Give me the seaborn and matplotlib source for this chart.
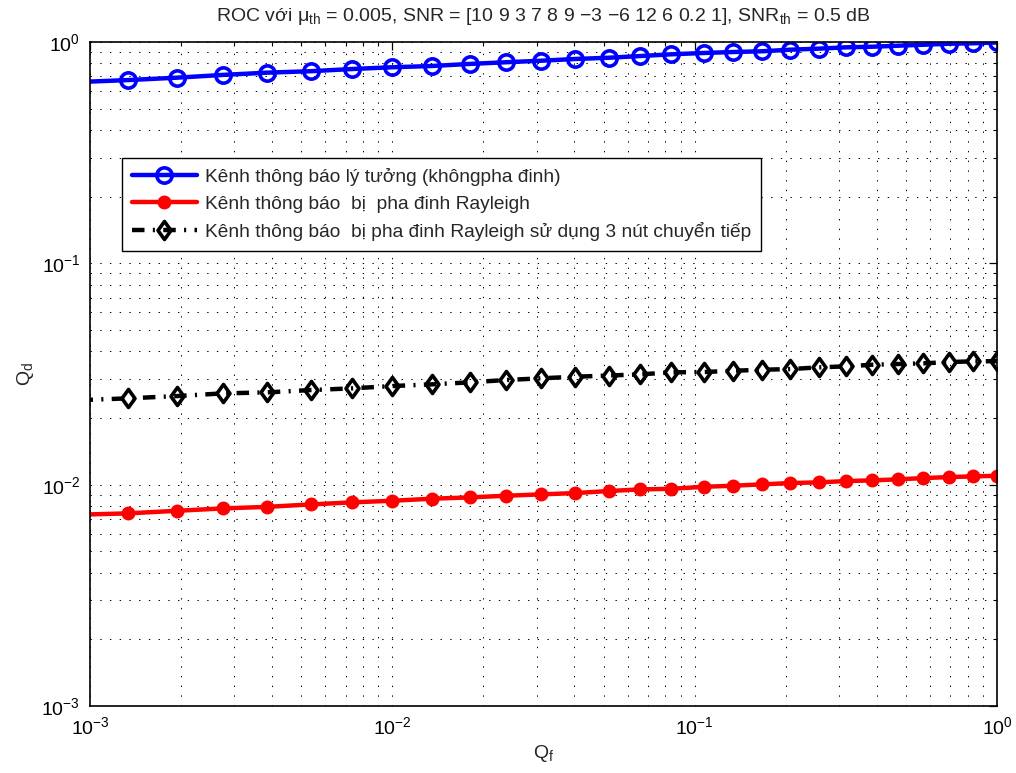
import numpy as np
import pandas as pd
import matplotlib
matplotlib.use("Agg")
import matplotlib.pyplot as plt
import seaborn as sns
from matplotlib.ticker import LogLocator, NullFormatter, LogFormatterMathtext
from matplotlib.path import Path

# ---- data ----
qf = [9.3e-4, 1.34e-3, 1.94e-3, 2.75e-3, 3.86e-3, 5.37e-3, 7.37e-3, 0.0100, 0.0135,
      0.0180, 0.0237, 0.0310, 0.0402, 0.0520, 0.0661, 0.0838, 0.107, 0.134, 0.167,
      0.207, 0.257, 0.316, 0.387, 0.470, 0.571, 0.693, 0.836, 1.0]

qd_ideal = [0.660, 0.673, 0.690, 0.710, 0.727, 0.738, 0.755, 0.769, 0.779, 0.796,
            0.810, 0.823, 0.838, 0.849, 0.864, 0.880, 0.892, 0.901, 0.908, 0.923,
            0.933, 0.946, 0.952, 0.962, 0.972, 0.982, 0.987, 0.995]

qd_rayleigh = [0.00732, 0.00742, 0.00762, 0.00781, 0.00794, 0.00814, 0.00832, 0.00846,
               0.00864, 0.00876, 0.00891, 0.00904, 0.00916, 0.00936, 0.00952, 0.00958,
               0.00978, 0.00989, 0.01003, 0.01017, 0.01024, 0.01038, 0.01046, 0.01057,
               0.01071, 0.01082, 0.01090, 0.01097]

qd_relay = [0.0241, 0.02455, 0.02514, 0.02585, 0.02612, 0.02676, 0.02724, 0.02790,
            0.02839, 0.02899, 0.02970, 0.03023, 0.03074, 0.03112, 0.03151, 0.03217,
            0.03227, 0.03271, 0.03305, 0.03329, 0.03388, 0.03424, 0.03482, 0.03508,
            0.03533, 0.03581, 0.03608, 0.03615]

labels = ["Kênh thông báo lý tưởng (khôngpha đinh)",
          "Kênh thông báo  bị  pha đinh Rayleigh",
          "Kênh thông báo  bị pha đinh Rayleigh sử dụng 3 nút chuyển tiếp"]

title = ("ROC với $\\mu_{th}$ = 0.005, SNR = [10 9 3 7 8 9 \u22123 \u22126 12 6 0.2 1], "
         "SNR$_{th}$ = 0.5 dB")

# ---- style ----
sns.set_style("white")
plt.rcParams["font.family"] = ["Liberation Sans", "DejaVu Sans"]
plt.rcParams["mathtext.fontset"] = "custom"
plt.rcParams["mathtext.rm"] = "Liberation Sans"
plt.rcParams["mathtext.it"] = "Liberation Sans:italic"
plt.rcParams["mathtext.default"] = "regular"
plt.rcParams["lines.scale_dashes"] = False

diamond = Path([(0, 1), (0.72, 0), (0, -1), (-0.72, 0), (0, 1)],
               [Path.MOVETO, Path.LINETO, Path.LINETO, Path.LINETO, Path.CLOSEPOLY])

fig = plt.figure(figsize=(10.16, 7.73), dpi=100)
ax = fig.add_axes([90 / 1016, 1 - 706 / 773, 907 / 1016, 664 / 773])

df = pd.DataFrame({"qf": qf, "ideal": qd_ideal, "rayleigh": qd_rayleigh, "relay": qd_relay})

sns.lineplot(data=df, x="qf", y="ideal", ax=ax, color="#0000ff", linewidth=3.2,
             marker="o", markersize=11, markerfacecolor="none", markeredgecolor="#0000ff",
             markeredgewidth=2.6, label=labels[0], clip_on=True)
sns.lineplot(data=df, x="qf", y="rayleigh", ax=ax, color="#ff0000", linewidth=3.2,
             marker="o", markersize=9, markerfacecolor="#ff0000", markeredgecolor="#ff0000",
             markeredgewidth=1, label=labels[1], clip_on=True)
sns.lineplot(data=df, x="qf", y="relay", ax=ax, color="black", linewidth=3.2,
             linestyle=(0, (9, 6, 1.5, 6)),
             marker=diamond, markersize=13, markerfacecolor="none", markeredgecolor="black",
             markeredgewidth=2.6, label=labels[2], clip_on=True)

ax.set_xscale("log")
ax.set_yscale("log")
ax.set_xlim(1e-3, 1)
ax.set_ylim(1e-3, 1)

ax.xaxis.set_major_locator(LogLocator(base=10, numticks=10))
ax.yaxis.set_major_locator(LogLocator(base=10, numticks=10))
ax.xaxis.set_minor_locator(LogLocator(base=10, subs=np.arange(2, 10), numticks=50))
ax.yaxis.set_minor_locator(LogLocator(base=10, subs=np.arange(2, 10), numticks=50))
ax.xaxis.set_major_formatter(LogFormatterMathtext())
ax.yaxis.set_major_formatter(LogFormatterMathtext())
ax.xaxis.set_minor_formatter(NullFormatter())
ax.yaxis.set_minor_formatter(NullFormatter())

ax.grid(True, which="both", color="black", linestyle=(0, (1, 6)), linewidth=0.7)
ax.tick_params(which="both", direction="in", top=True, right=True, colors="black",
               labelsize=14)
ax.tick_params(which="major", length=6, width=0.9, pad=7)
ax.tick_params(which="minor", length=3, width=0.8)
for s in ax.spines.values():
    s.set_color("black")
    s.set_linewidth(1.2)

ax.set_xlabel("Q$_f$", fontsize=14, labelpad=4)
ax.set_ylabel("Q$_d$", fontsize=14, labelpad=4)
ax.set_title(title, fontsize=14, pad=15)

leg = ax.legend(loc="upper left", bbox_to_anchor=((122 - 90) / 907, (706 - 158) / 664),
                borderaxespad=0, fontsize=13.8, frameon=True, fancybox=False,
                edgecolor="black", framealpha=1, handlelength=3.4, handletextpad=0.45,
                labelspacing=0.5, borderpad=0.5)
leg.get_frame().set_linewidth(1.0)

fig.savefig("out.png", dpi=100)
